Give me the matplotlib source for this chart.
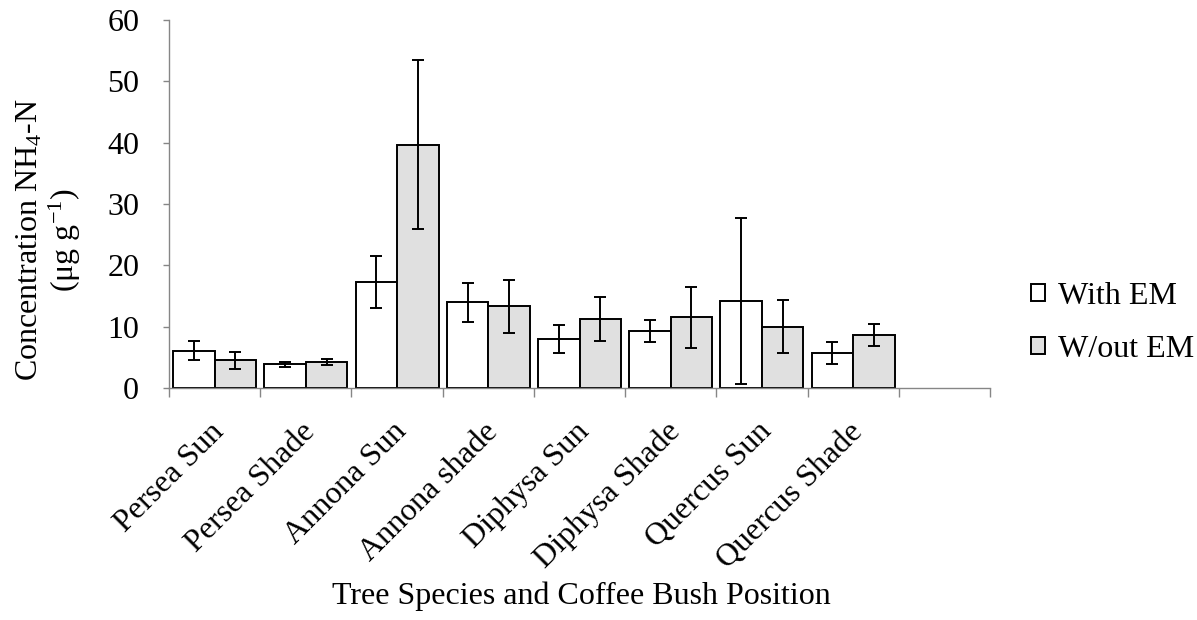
import matplotlib
matplotlib.use("Agg")
import matplotlib.pyplot as plt
import matplotlib.transforms as mtransforms
import numpy as np
from matplotlib.patches import Patch
from matplotlib.ticker import FixedLocator

# Data
categories = ["Persea Sun", "Persea Shade", "Annona Sun", "Annona shade",
              "Diphysa Sun", "Diphysa Shade", "Quercus Sun", "Quercus Shade"]
with_em = [6.1, 3.9, 17.3, 14.0, 8.0, 9.3, 14.2, 5.7]
with_em_err = [1.6, 0.4, 4.3, 3.2, 2.3, 1.8, 13.5, 1.8]
without_em = [4.5, 4.2, 39.7, 13.3, 11.3, 11.5, 10.0, 8.6]
without_em_err = [1.4, 0.5, 13.8, 4.3, 3.6, 4.9, 4.35, 1.8]
series_labels = ["With EM", "W/out EM"]
y_ticks = [0, 10, 20, 30, 40, 50, 60]

plt.rcParams["font.family"] = ["Liberation Serif", "DejaVu Serif"]
plt.rcParams["mathtext.default"] = "regular"
FS = 23

W, H = 1197, 620
fig = plt.figure(figsize=(W / 100, H / 100), dpi=100)
ax = fig.add_axes([169 / W, 1 - 388 / H, (990 - 169) / W, (388 - 20) / H])

axis_gray = "#868686"
fill_gray = "#e0e0e0"
bar_w = 0.455
n_slots = len(categories) + 1
x = np.arange(len(categories))

ax.bar(x - bar_w / 2, with_em, width=bar_w, color="white", edgecolor="black",
       linewidth=1.4, zorder=2)
ax.bar(x + bar_w / 2, without_em, width=bar_w, color=fill_gray, edgecolor="black",
       linewidth=1.4, zorder=2)
err_kw = dict(fmt="none", ecolor="black", elinewidth=1.4, capsize=4.5,
              capthick=1.4, zorder=3)
ax.errorbar(x - bar_w / 2, with_em, yerr=with_em_err, **err_kw)
ax.errorbar(x + bar_w / 2, without_em, yerr=without_em_err, **err_kw)

ax.set_xlim(-0.5, n_slots - 0.5)
ax.set_ylim(0, 60)

for side in ("top", "right"):
    ax.spines[side].set_visible(False)
for side in ("left", "bottom"):
    ax.spines[side].set_color(axis_gray)
    ax.spines[side].set_linewidth(1.0)

# y axis
ax.set_yticks(y_ticks)
ax.tick_params(axis="y", direction="out", length=4.5, width=1.0, color=axis_gray,
               labelsize=FS, pad=17)

# x axis: boundary ticks between categories, labels at category centres
ax.set_xticks(x)
ax.set_xticklabels(categories, rotation=45, ha="right", va="top",
                   rotation_mode="anchor", fontsize=FS)
ax.tick_params(axis="x", which="major", length=0, pad=21)
shift = mtransforms.ScaledTranslation(-5 / 100, 0, fig.dpi_scale_trans)
for lab in ax.get_xticklabels():
    lab.set_transform(lab.get_transform() + shift)
ax.xaxis.set_minor_locator(FixedLocator(np.arange(n_slots + 1) - 0.5))
ax.tick_params(axis="x", which="minor", direction="out", length=6.5, width=1.0,
               color=axis_gray)

# Axis titles
fig.text(581 / W, 1 - 596 / H, "Tree Species and Coffee Bush Position",
         ha="center", va="center", fontsize=FS)
fig.text(49 / W, 1 - 240 / H, "Concentration NH$_4$-N\n(μg g$^{-1}$)",
         rotation=90, ha="center", va="center", multialignment="center",
         fontsize=FS, linespacing=1.1)

# Legend
handles = [Patch(facecolor="white", edgecolor="black", linewidth=1.4),
           Patch(facecolor=fill_gray, edgecolor="black", linewidth=1.4)]
fig.legend(handles, series_labels, loc="center left",
           bbox_to_anchor=(1031 / W, 1 - 323 / H), frameon=False, fontsize=FS,
           handlelength=0.45, handleheight=0.45, handletextpad=0.4,
           labelspacing=0.75, borderpad=0, borderaxespad=0)

fig.savefig("out.png", dpi=100)
